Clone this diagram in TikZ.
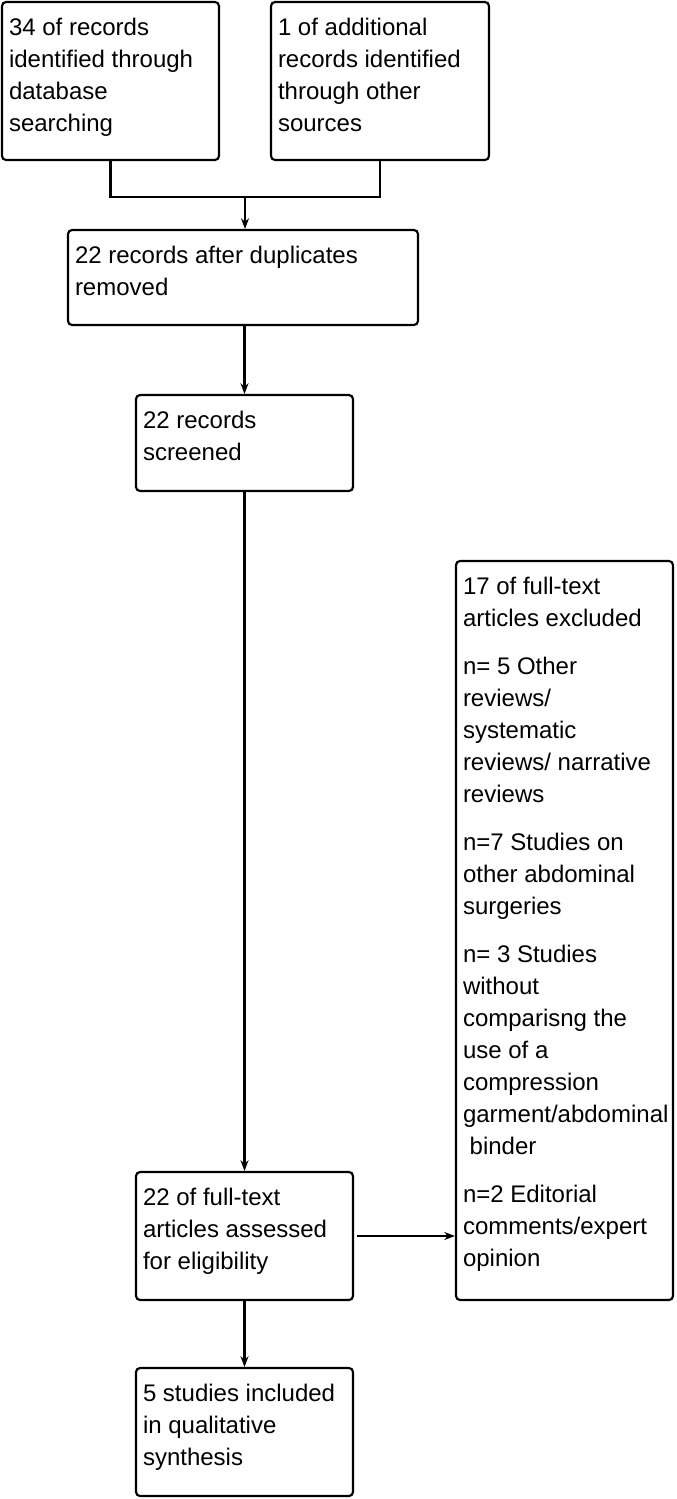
\documentclass[tikz,border=0pt]{standalone}
\usepackage{fontspec}
\setmainfont{Liberation Sans}
\usetikzlibrary{arrows.meta}
\tikzset{
  stage/.style={draw, line width=1.6pt, rounded corners=3pt, inner sep=0pt},
  words/.style={anchor=north west, inner sep=0pt, align=left, font=\fontsize{18}{24}\selectfont},
  >={Stealth[length=8pt,width=6pt]}
}
\begin{document}
\begin{tikzpicture}[line width=1.6pt]
        \def\x{0.75pt}
        \def\y{-0.75pt}
        \useasboundingbox (0,0) rectangle (676*\x, 1499*\y);
        \node[stage, minimum width=217*\x, minimum height=158*\x] (A0_0) at (110.5*\x, 81*\y) {};
        \node[stage, minimum width=218*\x, minimum height=158*\x] (A0_1) at (380*\x, 81*\y) {};
        \node[stage, minimum width=350*\x, minimum height=95*\x] (A1_0) at (243*\x, 277.5*\y) {};
        \node[stage, minimum width=217*\x, minimum height=96*\x] (A2_0) at (244.5*\x, 443*\y) {};
        \node[stage, minimum width=217*\x, minimum height=128*\x] (A3_0) at (244.5*\x, 1236*\y) {};
        \node[stage, minimum width=217*\x, minimum height=739*\x] (A3_1) at (564.5*\x, 930.5*\y) {};
        \node[stage, minimum width=217*\x, minimum height=128*\x] (A4_0) at (244.5*\x, 1432*\y) {};
        \node[words] (T0_0) at ([shift={(7*\x,16*\y)}]A0_0.north west) {34 of records\\identified through\\database\\searching};
        \node[words] (T0_1) at ([shift={(7*\x,16*\y)}]A0_1.north west) {1 of additional\\records identified\\through other\\sources};
        \node[words] (T1_0) at ([shift={(7*\x,16*\y)}]A1_0.north west) {22 records after duplicates\\removed};
        \node[words] (T2_0) at ([shift={(7*\x,16*\y)}]A2_0.north west) {22 records\\screened};
        \node[words] (T3_0) at ([shift={(7*\x,16*\y)}]A3_0.north west) {22 of full-text\\articles assessed\\for eligibility};
        \node[words] (T3_1) at ([shift={(7*\x,16*\y)}]A3_1.north west) {17 of full-text\\articles excluded\\[12pt]n= 5 Other\\reviews/\\systematic\\reviews/ narrative\\reviews\\[12pt]n=7 Studies on\\other abdominal\\surgeries\\[12pt]n= 3 Studies\\without\\comparisng the\\use of a\\compression\\garment/abdominal\\\hspace*{5pt}binder\\[12pt]n=2 Editorial\\comments/expert\\opinion};
        \node[words] (T4_0) at ([shift={(7*\x,16*\y)}]A4_0.north west) {5 studies included\\in qualitative\\synthesis};
        \coordinate (J) at (245*\x, 197*\y);
        \draw (A0_0.south) |- (J) -| (A0_1.south);
        \path (J) edge [->] (J |- A1_0.north);
        \path (A1_0.south -| A2_0.north) edge [->] (A2_0.north);
        \path (A2_0) edge [->] (A3_0);
        \path ([xshift=2pt]A3_0.east) edge [->] (A3_0.east -| A3_1.west);
        \path (A3_0) edge [->] (A4_0);
      \end{tikzpicture}
\end{document}
